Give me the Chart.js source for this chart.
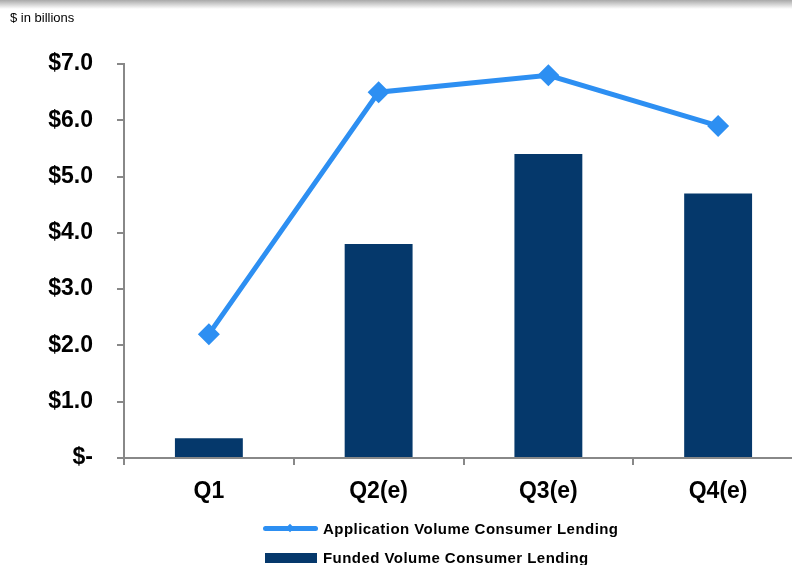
<!DOCTYPE html>
<html>
<head>
<meta charset="utf-8">
<script src="https://cdn.jsdelivr.net/npm/chart.js@4/dist/chart.umd.min.js"></script>
<style>
  html, body { margin:0; padding:0; background:#fff; width:792px; height:565px; overflow:hidden; position:relative; font-family:"Liberation Sans", Arial, sans-serif; }
  #topbar { position:absolute; left:0; top:0; width:792px; height:9px; background:linear-gradient(#a9a9a9, #ffffff); }
  #unit { position:absolute; left:10px; top:10px; font-size:13px; color:#000; }
  #wrap { position:absolute; left:0; top:0; width:830px; height:565px; }
  .leg { position:absolute; font-weight:bold; font-size:15px; letter-spacing:0.45px; color:#000; white-space:nowrap; }
  .sw-line { position:absolute; left:263px; top:526px; width:55px; height:5px; background:#2d8ff2; border-radius:3px; }
  .sw-dia { position:absolute; left:287px; top:525px; width:6px; height:6px; background:#2d8ff2; transform:rotate(45deg); }
  .sw-bar { position:absolute; left:265px; top:553px; width:52px; height:10px; background:#05386b; }
</style>
</head>
<body>
<div id="wrap"><canvas id="c" width="830" height="565"></canvas></div>
<div id="topbar"></div>
<div id="unit">$ in billions</div>
<div class="sw-line"></div><div class="sw-dia"></div>
<div class="leg" style="left:323px; top:520px;">Application Volume Consumer Lending</div>
<div class="sw-bar"></div>
<div class="leg" style="left:323px; top:549px;">Funded Volume Consumer Lending</div>
<script>
const categories = ["Q1", "Q2(e)", "Q3(e)", "Q4(e)"];
const applicationVolume = [2.2, 6.5, 6.8, 5.9];
const fundedVolume = [0.35, 3.8, 5.4, 4.7];
const yTicks = [0, 1, 2, 3, 4, 5, 6, 7];
const seriesNames = ["Application Volume Consumer Lending", "Funded Volume Consumer Lending"];

new Chart(document.getElementById('c'), {
  data: {
    labels: categories,
    datasets: [
      {
        type: 'line', label: seriesNames[0], data: applicationVolume, order: 0,
        borderColor: '#2d8ff2', backgroundColor: '#2d8ff2', borderWidth: 5,
        pointStyle: 'rectRot', pointRadius: 11, pointHoverRadius: 11,
        pointBackgroundColor: '#2d8ff2', pointBorderColor: '#2d8ff2', pointBorderWidth: 0,
        tension: 0, fill: false
      },
      {
        type: 'bar', label: seriesNames[1], data: fundedVolume, order: 1,
        backgroundColor: '#05386b', borderWidth: 0,
        barPercentage: 0.4, categoryPercentage: 1.0
      }
    ]
  },
  options: {
    responsive: false, animation: false,
    layout: { padding: { left: 0, top: 64, right: 27, bottom: 57 } },
    plugins: { legend: { display: false }, tooltip: { enabled: false } },
    scales: {
      x: {
        offset: true,
        grid: { offset: true, drawOnChartArea: false, drawTicks: true, tickLength: 7, color: '#888', lineWidth: 2 },
        border: { display: true, color: '#888', width: 2 },
        ticks: { color: '#000', font: { family: '"Liberation Sans", Arial', size: 23, weight: 'bold' }, padding: 13 },
        afterFit: s => { s.height = 50; }
      },
      y: {
        min: 0, max: 7,
        afterBuildTicks: s => { s.ticks = yTicks.map(v => ({ value: v })); },
        grid: { drawOnChartArea: false, drawTicks: true, tickLength: 7, color: '#888', lineWidth: 2 },
        border: { display: true, color: '#888', width: 2 },
        ticks: {
          color: '#000', padding: 24,
          font: { family: '"Liberation Sans", Arial', size: 23, weight: 'bold' },
          callback: v => v === 0 ? '$-' : '$' + Number(v).toFixed(1)
        },
        afterFit: s => { s.width = 124; }
      }
    }
  }
});
</script>
</body>
</html>
